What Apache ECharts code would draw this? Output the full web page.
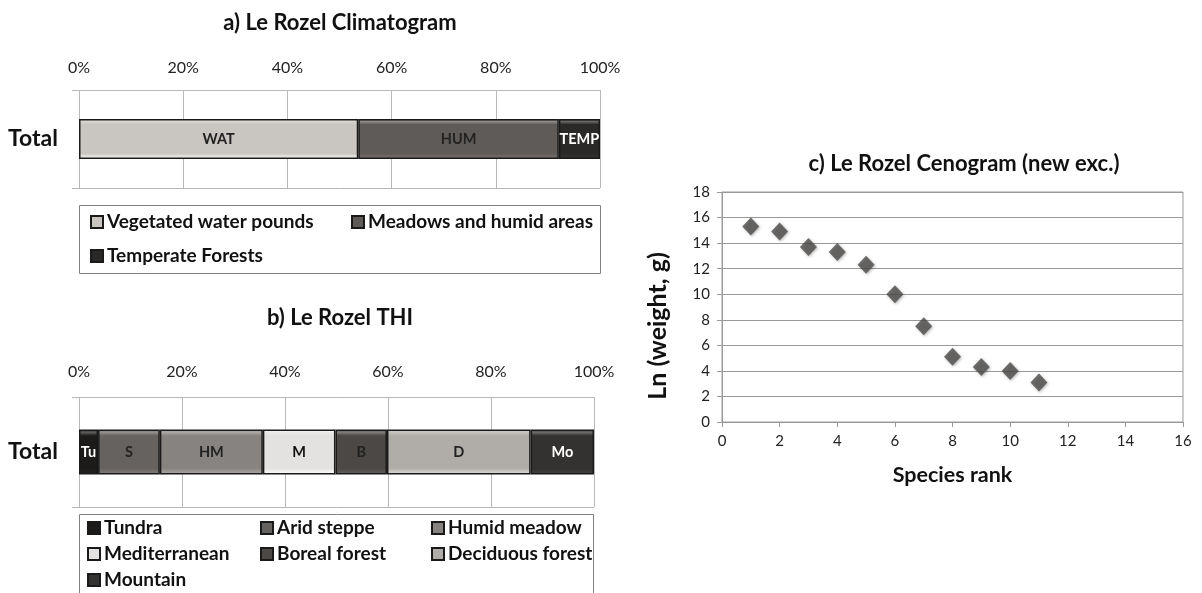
<!DOCTYPE html>
<html>
<head>
<meta charset="utf-8">
<script src="https://cdn.jsdelivr.net/npm/echarts@6/dist/echarts.min.js"></script>
<style>
html,body{margin:0;padding:0;background:#fff;}
#chart{width:1202px;height:593px;}
</style>
</head>
<body>
<div id="chart"></div>
<script>
// ---- data ----
const climCategories = ['Total'];
const climNames = ['Vegetated water pounds', 'Meadows and humid areas', 'Temperate Forests'];
const climLabels = ['WAT', 'HUM', 'TEMP'];
const climValues = [53.6, 38.5, 7.9];

const thiCategories = ['Total'];
const thiNames = ['Tundra', 'Arid steppe', 'Humid meadow', 'Mediterranean', 'Boreal forest', 'Deciduous forest', 'Mountain'];
const thiLabels = ['Tu', 'S', 'HM', 'M', 'B', 'D', 'Mo'];
const thiValues = [3.7, 12.0, 20.0, 14.1, 10.0, 27.9, 12.3];

const cenoRank = [1, 2, 3, 4, 5, 6, 7, 8, 9, 10, 11];
const cenoLnWeight = [15.3, 14.9, 13.7, 13.3, 12.3, 10.0, 7.5, 5.1, 4.3, 4.0, 3.1];

// ---- styles ----
const FONT = 'Lato, "Open Sans", sans-serif';
const climColors = ['#c9c5c1', '#5f5b58', '#2b2927'];
const climLabelColors = ['#222', '#222', '#fff'];
const thiColors = ['#1c1b1a', '#66625f', '#878380', '#e4e2e0', '#4b4846', '#b0aca8', '#343230'];
const thiLabelColors = ['#fff', '#222', '#222', '#111', '#222', '#222', '#fff'];

function bevel(c) {
  return {
    type: 'linear', x: 0, y: 0, x2: 0, y2: 1,
    colorStops: [
      { offset: 0, color: echarts.color.lift(c, -0.15) },
      { offset: 0.06, color: echarts.color.lift(c, 0.3) },
      { offset: 0.14, color: c },
      { offset: 0.86, color: c },
      { offset: 1, color: echarts.color.lift(c, -0.3) }
    ]
  };
}

const chart = echarts.init(document.getElementById('chart'), null, { renderer: 'canvas' });

function pctXAxis(gridIndex, margin) {
  return {
    type: 'value', gridIndex, position: 'top', min: 0, max: 100, interval: 20,
    axisLine: { show: false }, axisTick: { show: false },
    axisLabel: { formatter: '{value}%', fontFamily: FONT, fontSize: 16, color: '#222', margin },
    splitLine: { show: true, lineStyle: { color: '#b8b8b8', width: 1 } }
  };
}
function catYAxis(gridIndex, cats) {
  return {
    type: 'category', gridIndex, data: cats, boundaryGap: true,
    axisLine: { show: false },
    axisTick: { show: true, length: 7, lineStyle: { color: '#b8b8b8' } },
    axisLabel: { fontFamily: FONT, fontSize: 23, fontWeight: 'bold', color: '#111', margin: 21 },
    splitLine: { show: true, lineStyle: { color: '#b8b8b8', width: 1 } }
  };
}

const series = [];
climNames.forEach((n, i) => {
  series.push({
    name: n, type: 'bar', stack: 'clim', xAxisIndex: 0, yAxisIndex: 0,
    barWidth: 40, data: [climValues[i]],
    itemStyle: { color: bevel(climColors[i]), borderColor: '#1a1a1a', borderWidth: 1.5 },
    label: { show: true, position: 'inside', formatter: climLabels[i], fontFamily: FONT, fontSize: 14.5, fontWeight: 'bold', color: climLabelColors[i] },
    emphasis: { disabled: true }
  });
});
thiNames.forEach((n, i) => {
  series.push({
    name: n, type: 'bar', stack: 'thi', xAxisIndex: 1, yAxisIndex: 1,
    barWidth: 45, data: [thiValues[i]],
    itemStyle: { color: bevel(thiColors[i]), borderColor: '#1a1a1a', borderWidth: 1.5 },
    label: { show: true, position: 'inside', formatter: thiLabels[i], fontFamily: FONT, fontSize: 14.5, fontWeight: 'bold', color: thiLabelColors[i] },
    emphasis: { disabled: true }
  });
});
series.push({
  name: 'ceno', type: 'scatter', xAxisIndex: 2, yAxisIndex: 2,
  data: cenoRank.map((r, i) => [r, cenoLnWeight[i]]),
  symbol: 'diamond', symbolSize: [17, 18],
  itemStyle: { color: '#4e4b49', shadowColor: 'rgba(0,0,0,0.35)', shadowBlur: 3, shadowOffsetX: 1, shadowOffsetY: 1 },
  emphasis: { disabled: true }
});

function legendItem(name, left, centerY) {
  return {
    data: [name], left, top: centerY - 10, orient: 'horizontal', padding: 0,
    itemWidth: 12, itemHeight: 12, icon: 'rect', selectedMode: false,
    textStyle: { fontFamily: FONT, fontSize: 19, fontWeight: 'bold', color: '#111', lineHeight: 20, padding: [0, 0, 0, -1] }
  };
}

const option = {
  backgroundColor: '#fff',
  animation: false,
  title: [
    { text: 'a) Le Rozel Climatogram', left: 335, top: 7, textAlign: 'center', textStyle: { fontFamily: FONT, fontSize: 22, fontWeight: 'bold', color: '#111' } },
    { text: 'b) Le Rozel THI', left: 335, top: 302, textAlign: 'center', textStyle: { fontFamily: FONT, fontSize: 22, fontWeight: 'bold', color: '#111' } },
    { text: 'c) Le Rozel Cenogram (new exc.)', left: 959, top: 148, textAlign: 'center', textStyle: { fontFamily: FONT, fontSize: 22, fontWeight: 'bold', color: '#111' } }
  ],
  grid: [
    { left: 79, width: 521, top: 90, height: 98 },
    { left: 79, width: 515, top: 397, height: 110 },
    { left: 722, width: 461, top: 192, height: 230, show: true, borderColor: '#9a9a9a', borderWidth: 1 }
  ],
  xAxis: [
    pctXAxis(0, 14),
    pctXAxis(1, 17),
    {
      type: 'value', gridIndex: 2, min: 0, max: 16, interval: 2,
      name: 'Species rank', nameLocation: 'middle', nameGap: 42,
      nameTextStyle: { fontFamily: FONT, fontSize: 21.5, fontWeight: 'bold', color: '#111' },
      axisLine: { show: true, lineStyle: { color: '#9a9a9a' } },
      axisTick: { show: true, length: 5, lineStyle: { color: '#9a9a9a' } },
      axisLabel: { fontFamily: FONT, fontSize: 15, color: '#222', margin: 12 },
      splitLine: { show: false }
    }
  ],
  yAxis: [
    catYAxis(0, climCategories),
    catYAxis(1, thiCategories),
    {
      type: 'value', gridIndex: 2, min: 0, max: 18, interval: 2,
      axisLine: { show: true, lineStyle: { color: '#9a9a9a' } },
      axisTick: { show: true, length: 5, lineStyle: { color: '#9a9a9a' } },
      axisLabel: { fontFamily: FONT, fontSize: 15, color: '#222', margin: 12 },
      splitLine: { show: true, lineStyle: { color: '#9a9a9a', width: 1 } }
    }
  ],
  legend: [
    legendItem(climNames[0], 90, 222),
    legendItem(climNames[1], 351, 222),
    legendItem(climNames[2], 90, 256),
    legendItem(thiNames[0], 87, 528),
    legendItem(thiNames[1], 260, 528),
    legendItem(thiNames[2], 431, 528),
    legendItem(thiNames[3], 87, 554),
    legendItem(thiNames[4], 260, 554),
    legendItem(thiNames[5], 431, 554),
    legendItem(thiNames[6], 87, 580)
  ],
  graphic: [
    { type: 'rect', shape: { x: 79.5, y: 205.5, width: 521, height: 68 }, style: { fill: 'none', stroke: '#808080', lineWidth: 1 }, silent: true },
    { type: 'rect', shape: { x: 79.5, y: 514.5, width: 514, height: 90 }, style: { fill: 'none', stroke: '#808080', lineWidth: 1 }, silent: true },
    { type: 'text', x: 658, y: 326, rotation: Math.PI / 2, silent: true,
      style: { text: 'Ln (weight, g)', fontFamily: FONT, fontSize: 25, fontWeight: 'bold', fill: '#111', textAlign: 'center', textVerticalAlign: 'middle' } }
  ],
  series
};
chart.setOption(option);
</script>
</body>
</html>
